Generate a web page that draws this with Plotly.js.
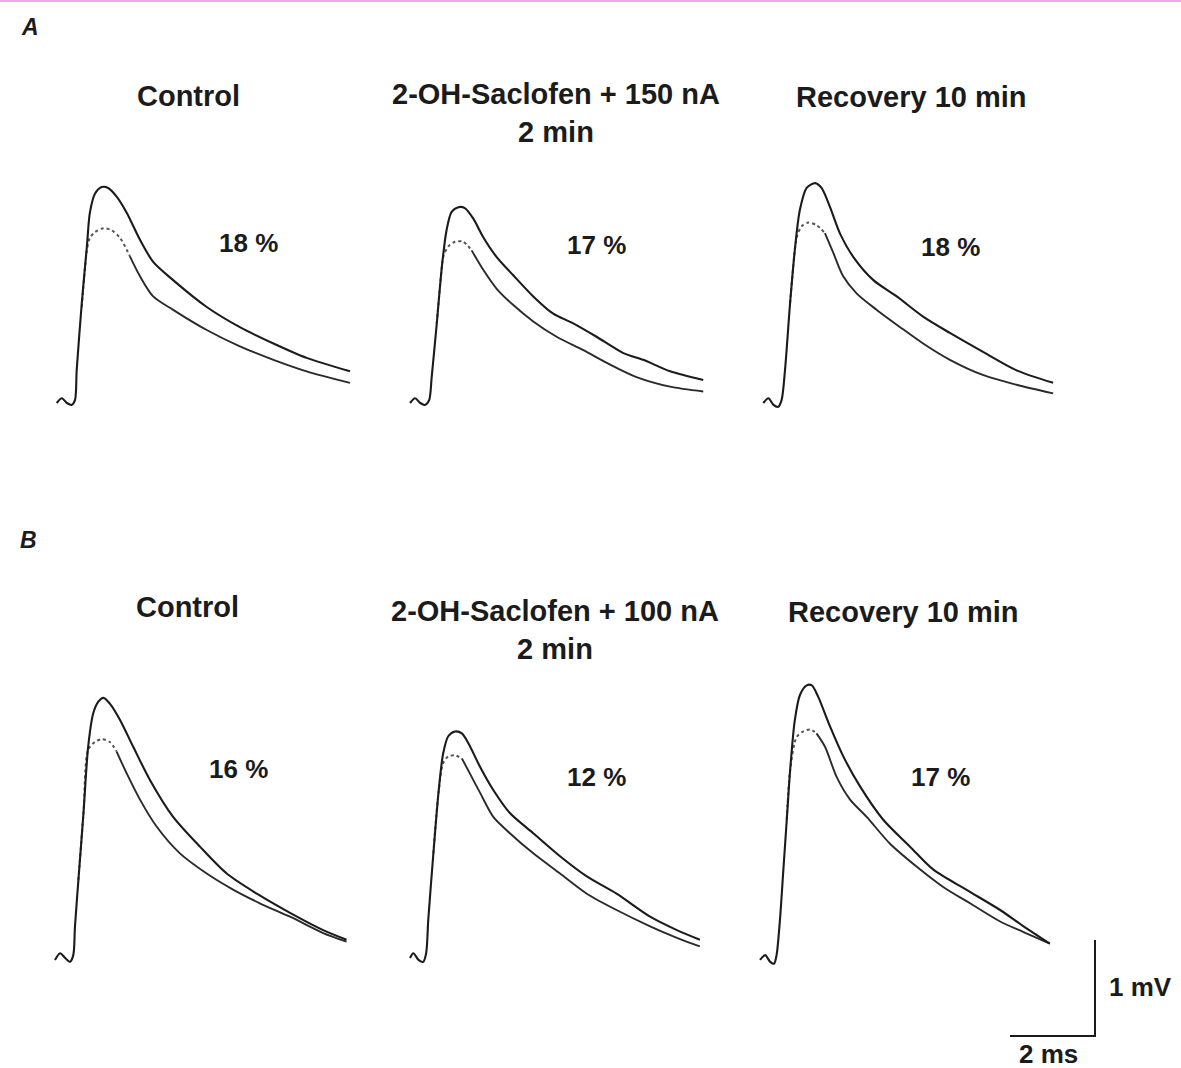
<!DOCTYPE html>
<html>
<head>
<meta charset="utf-8">
<script src="https://cdn.plot.ly/plotly-3.0.1.min.js"></script>
<style>html,body{margin:0;padding:0;background:#fff;}#chart{width:1181px;height:1068px;}</style>
</head>
<body>
<div id="chart"></div>
<script>
// ---------- DATA (time in ms, potential in mV) ----------
// Panel A1 – Control
const tA1 = [0,0.12,0.24,0.35,0.43,0.47,0.59,0.71,0.78,0.90,1.06,1.21,1.41,1.65,1.96,2.27,2.74,3.53,4.31,5.10,5.88,6.90];
const solidA1 = [0,0.05,0,-0.02,0.03,0.34,1.04,1.63,1.98,2.18,2.25,2.24,2.15,1.98,1.70,1.47,1.28,1.00,0.79,0.62,0.47,0.33];
const tA1low = [0.59,0.71,0.78,0.90,1.10,1.29,1.49,1.72,1.96,2.27,2.74,3.53,4.31,5.10,5.88,6.90];
const lowA1 = [1.00,1.59,1.72,1.78,1.82,1.80,1.72,1.53,1.32,1.11,0.97,0.76,0.59,0.45,0.33,0.21];

// Panel A2 – 2-OH-Saclofen + 150 nA
const tA2 = [0,0.12,0.24,0.35,0.45,0.51,0.63,0.75,0.86,0.98,1.14,1.29,1.49,1.72,2.04,2.43,2.90,3.37,3.84,4.39,5.02,5.49,6.12,6.90];
const solidA2 = [0,0.05,0,-0.02,0.03,0.27,0.83,1.42,1.80,1.99,2.04,2.03,1.92,1.73,1.52,1.33,1.11,0.93,0.83,0.69,0.52,0.45,0.33,0.24];
const tA2low = [0.63,0.75,0.78,0.90,1.06,1.25,1.45,1.72,2.04,2.43,2.90,3.45,4.08,4.71,5.33,6.12,6.90];
const lowA2 = [0.83,1.42,1.52,1.63,1.68,1.68,1.59,1.39,1.19,1.02,0.85,0.69,0.55,0.40,0.27,0.17,0.12];

// Panel A3 – Recovery 10 min
const tA3 = [0,0.12,0.24,0.35,0.43,0.51,0.63,0.75,0.86,1.02,1.22,1.37,1.57,1.80,2.12,2.59,3.14,3.76,4.39,5.18,5.96,6.82];
const solidA3 = [0,0.05,-0.02,-0.04,0.03,0.34,1.04,1.63,2.01,2.24,2.29,2.24,2.04,1.77,1.52,1.28,1.11,0.90,0.73,0.53,0.34,0.21];
const tA3low = [0.63,0.75,0.79,0.90,1.06,1.26,1.45,1.65,1.88,2.20,2.67,3.22,3.76,4.39,5.18,5.96,6.82];
const lowA3 = [1.04,1.63,1.73,1.84,1.88,1.85,1.77,1.56,1.32,1.14,0.97,0.79,0.62,0.45,0.29,0.19,0.10];

// Panel B1 – Control
const tB1 = [0,0.12,0.24,0.35,0.43,0.47,0.55,0.67,0.78,0.90,1.02,1.14,1.29,1.53,1.84,2.24,2.78,3.41,4.04,4.75,5.53,6.31,6.86];
const solidB1 = [-0.02,0.05,0,-0.04,0.03,0.33,0.81,1.51,2.20,2.55,2.67,2.71,2.65,2.48,2.20,1.85,1.47,1.16,0.88,0.67,0.47,0.29,0.19];
const tB1low = [0.55,0.67,0.78,0.94,1.10,1.29,1.45,1.69,2.00,2.39,2.94,3.57,4.20,4.82,5.53,6.31,6.86];
const lowB1 = [0.81,1.51,2.17,2.25,2.28,2.25,2.15,1.92,1.65,1.37,1.09,0.88,0.71,0.57,0.43,0.26,0.17];

// Panel B2 – 2-OH-Saclofen + 100 nA
const tB2 = [0,0.08,0.20,0.31,0.38,0.43,0.55,0.67,0.78,0.90,1.06,1.22,1.37,1.65,1.96,2.35,2.90,3.53,4.16,4.86,5.65,6.28,6.82];
const solidB2 = [0,0.05,-0.02,-0.04,0.05,0.40,1.09,1.72,2.13,2.31,2.36,2.34,2.24,1.99,1.75,1.51,1.30,1.06,0.85,0.67,0.43,0.29,0.19];
const tB2low = [0.55,0.67,0.78,0.90,1.06,1.22,1.41,1.65,1.96,2.35,2.90,3.53,4.16,4.86,5.65,6.28,6.82];
const lowB2 = [1.09,1.72,2.03,2.10,2.11,2.08,1.92,1.72,1.47,1.30,1.09,0.88,0.67,0.50,0.33,0.21,0.12];

// Panel B3 – Recovery 10 min
const tB3 = [0,0.12,0.24,0.33,0.39,0.47,0.55,0.63,0.71,0.82,0.94,1.10,1.22,1.37,1.65,1.96,2.35,2.90,3.53,4.08,4.86,5.65,6.20,6.82];
const solidB3 = [-0.02,0.03,-0.04,-0.06,0.03,0.40,0.92,1.44,1.96,2.48,2.74,2.84,2.84,2.72,2.41,2.10,1.79,1.44,1.16,0.92,0.71,0.50,0.33,0.15];
const tB3low = [0.63,0.71,0.86,1.02,1.18,1.33,1.53,1.80,2.12,2.51,3.06,3.69,4.31,4.94,5.65,6.20,6.82];
const lowB3 = [1.44,1.96,2.30,2.36,2.38,2.34,2.20,1.89,1.65,1.47,1.19,0.95,0.74,0.57,0.38,0.27,0.15];

// Labels
const rowLabels = ["A", "B"];
const conditionsA = ["Control", "2-OH-Saclofen + 150 nA<br>2 min", "Recovery 10 min"];
const conditionsB = ["Control", "2-OH-Saclofen + 100 nA<br>2 min", "Recovery 10 min"];
const percentA = ["18 %", "17 %", "18 %"];
const percentB = ["16 %", "12 %", "17 %"];
const scaleMs = 2, scaleMv = 1;
const scaleLabels = ["2 ms", "1 mV"];

// ---------- LAYOUT HELPERS ----------
const W = 1181, H = 1068;
const PX_PER_MS = 42.5, PX_PER_MV = 96;
const FONT = "Liberation Sans, Arial, Helvetica, sans-serif";
const INK = "#1b1b1b";

const traces = [];
const layout = {
  width: W, height: H,
  margin: {l: 0, r: 0, t: 0, b: 0},
  paper_bgcolor: "#ffffff", plot_bgcolor: "rgba(0,0,0,0)",
  showlegend: false,
  annotations: [], shapes: []
};

function axisPair(n, left, right, top, bottom, x0, base) {
  const xs = n === 1 ? "" : String(n);
  layout["xaxis" + xs] = {
    domain: [left / W, right / W],
    range: [(left - x0) / PX_PER_MS, (right - x0) / PX_PER_MS],
    visible: false, fixedrange: true, anchor: "y" + xs
  };
  layout["yaxis" + xs] = {
    domain: [1 - bottom / H, 1 - top / H],
    range: [(base - bottom) / PX_PER_MV, (base - top) / PX_PER_MV],
    visible: false, fixedrange: true, anchor: "x" + xs
  };
  return ["x" + xs, "y" + xs];
}

function panel(n, x0, base, t, solid, tLow, low, dotEnd) {
  const [xa, ya] = axisPair(n, x0 - 15, x0 + 320, base - 290, base + 20, x0, base);
  traces.push({x: tLow.slice(0, dotEnd + 1), y: low.slice(0, dotEnd + 1), xaxis: xa, yaxis: ya,
    mode: "lines", line: {color: "#555", width: 2, dash: "dot", shape: "spline", smoothing: 0.8}, hoverinfo: "skip"});
  traces.push({x: tLow.slice(dotEnd), y: low.slice(dotEnd), xaxis: xa, yaxis: ya,
    mode: "lines", line: {color: "#2a2a2a", width: 1.9, shape: "spline", smoothing: 0.8}, hoverinfo: "skip"});
  traces.push({x: t, y: solid, xaxis: xa, yaxis: ya,
    mode: "lines", line: {color: INK, width: 2.1, shape: "spline", smoothing: 0.8}, hoverinfo: "skip"});
}

panel(1, 56.7, 403, tA1, solidA1, tA1low, lowA1, 7);
panel(2, 410, 403, tA2, solidA2, tA2low, lowA2, 6);
panel(3, 763.3, 403, tA3, solidA3, tA3low, lowA3, 6);
panel(4, 55, 958, tB1, solidB1, tB1low, lowB1, 6);
panel(5, 410, 958, tB2, solidB2, tB2low, lowB2, 5);
panel(6, 760, 958, tB3, solidB3, tB3low, lowB3, 5);

// scale bar axes
(function () {
  const left = 990, right = 1110, top = 925, bottom = 1050;
  const cx = 1095, cy = 1036;
  const [xa, ya] = axisPair(7, left, right, top, bottom, cx, cy);
  traces.push({x: [-scaleMs, 0, 0], y: [0, 0, scaleMv], xaxis: xa, yaxis: ya,
    mode: "lines", line: {color: INK, width: 2}, hoverinfo: "skip"});
})();

// ---------- TEXT ----------
function txt(text, x, y, size, opts) {
  layout.annotations.push(Object.assign({
    text: text, x: x / W, y: 1 - y / H, xref: "paper", yref: "paper",
    xanchor: "center", yanchor: "middle", showarrow: false,
    font: {family: FONT, size: size, color: INK}
  }, opts || {}));
}
txt("<i><b>" + rowLabels[0] + "</b></i>", 30, 27, 23);
txt("<i><b>" + rowLabels[1] + "</b></i>", 28, 540, 23);

const condX = [188, 556, 911];
const condXB = [187, 555, 903];
const B = s => "<b>" + s + "</b>";
txt(B(conditionsA[0]), condX[0], 96, 29);
txt(B(conditionsA[1]), condX[1], 113, 29);
txt(B(conditionsA[2]), condX[2], 97, 29);
txt(B(conditionsB[0]), condXB[0], 607, 29);
txt(B(conditionsB[1]), condXB[1], 630, 29);
txt(B(conditionsB[2]), condXB[2], 612, 29);

const pctA = [[248, 243], [596, 245], [950, 247]];
const pctB = [[238, 769], [596, 777], [940, 777]];
percentA.forEach((p, i) => txt(B(p), pctA[i][0], pctA[i][1], 26));
percentB.forEach((p, i) => txt(B(p), pctB[i][0], pctB[i][1], 26));

txt(B(scaleLabels[0]), 1048, 1054, 26);
txt(B(scaleLabels[1]), 1140, 987, 26);

// thin pink border at top
layout.shapes.push({type: "line", xref: "paper", yref: "paper", x0: 0, x1: 1, y0: 1 - 1 / H, y1: 1 - 1 / H,
  line: {color: "#f2a6f2", width: 2}});

Plotly.newPlot("chart", traces, layout, {staticPlot: true, displayModeBar: false});
</script>
</body>
</html>
